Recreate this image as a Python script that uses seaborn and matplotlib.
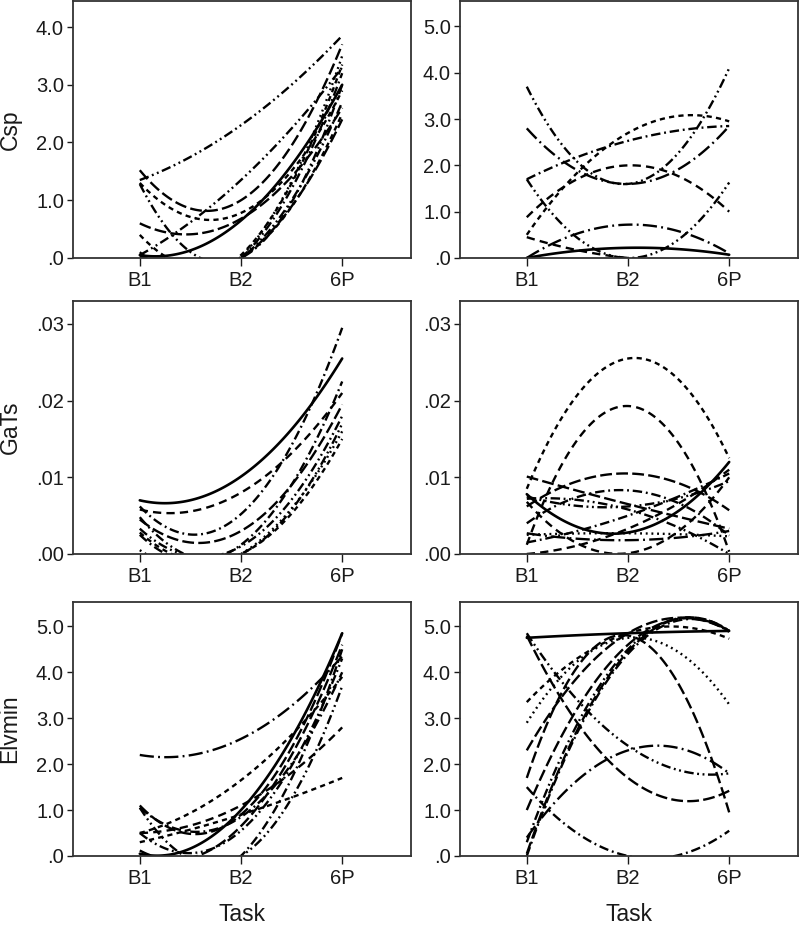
"""
Individual quadratic trajectories across tasks (B1, B2, 6P) for Csp, GaTs, Elvmin.
Left column and right column = two groups.
"""
import numpy as np
import pandas as pd
import matplotlib
matplotlib.use("Agg")
import matplotlib.pyplot as plt
from matplotlib.ticker import FuncFormatter, MultipleLocator
import seaborn as sns

sns.set_theme(style="ticks")
plt.rcParams["font.family"] = ["Liberation Sans", "DejaVu Sans"]

# %% Data: each row = one subject, values at B1, B2, 6P
tasks = ["B1", "B2", "6P"]
task_pos = [1, 2, 3]

csp_left = [
    [1.35, 2.30, 3.85], [1.52, 1.00, 3.70], [1.30, 0.78, 2.90], [1.28, 0.00, 3.00],
    [0.05, 1.35, 3.30], [0.60, 0.68, 2.60], [0.40, 0.00, 2.50], [0.05, 0.65, 3.00],
    [0.00, 0.00, 3.20], [0.05, 0.00, 2.40], [0.00, 0.02, 3.50], [0.10, 0.00, 2.70],
    [0.00, 0.05, 3.35],
]
csp_left_style = ["dd", "long", "short", "dd", "dd", "long", "short", "solid",
                  "dot_dash", "long", "dot", "dd", "short"]

csp_right = [
    [3.70, 1.60, 4.10], [2.80, 1.60, 2.85], [0.50, 2.70, 2.95], [0.88, 2.00, 1.00],
    [1.70, 2.53, 2.85], [1.70, 0.00, 1.63], [0.00, 0.72, 0.10], [0.45, 0.00, 0.00],
    [0.00, 0.22, 0.07],
]
csp_right_style = ["dd", "ldot", "short", "med", "dot_dash", "dd", "ldot", "med", "solid"]

gats_left = [
    [0.0070, 0.0101, 0.0255], [0.0062, 0.0052, 0.0295], [0.0058, 0.0080, 0.0210],
    [0.0045, 0.0030, 0.0195], [0.0033, 0.0010, 0.0180], [0.0005, 0.0000, 0.0160],
    [0.0028, 0.0000, 0.0150], [0.0048, 0.0000, 0.0170], [0.0025, 0.0012, 0.0225],
]
gats_left_style = ["solid", "dot_dash", "med", "long", "dd", "dot", "short", "dd", "dot_dash"]

gats_right = [
    [0.0085, 0.0255, 0.0125], [0.0012, 0.0193, 0.0003], [0.0062, 0.0105, 0.0057],
    [0.0078, 0.0028, 0.0120], [0.0040, 0.0083, 0.0024], [0.0101, 0.0065, 0.0033],
    [0.0068, 0.0001, 0.0100], [0.0075, 0.0062, 0.0095], [0.0025, 0.0027, 0.0023],
    [0.0027, 0.0018, 0.0030], [0.0000, 0.0033, 0.0110], [0.0072, 0.0058, 0.0000],
    [0.0015, 0.0050, 0.0105],
]
gats_right_style = ["short", "med", "long", "solid", "dot_dash", "long", "med", "dd",
                    "dot", "ldot", "med", "dd", "dot_dash"]

elv_left = [
    [2.20, 2.55, 4.35], [0.50, 1.65, 3.90], [0.30, 0.90, 1.70], [0.50, 1.10, 2.80],
    [0.05, 1.00, 4.85], [1.10, 0.90, 4.85], [1.05, 0.85, 4.00], [1.05, 0.00, 3.70],
    [0.00, 0.00, 4.50], [0.12, 0.65, 4.60], [0.50, 0.55, 4.30],
]
elv_left_style = ["ldot", "short", "short", "med", "solid", "long", "dot_dash", "dd",
                  "dot_dash", "long", "dd"]

elv_right = [
    [4.75, 4.85, 4.90], [4.85, 2.40, 1.80], [4.80, 1.70, 1.42], [1.50, 0.00, 0.55],
    [0.40, 2.30, 1.80], [1.70, 4.80, 0.95], [2.90, 4.75, 3.30], [3.35, 4.85, 4.73],
    [0.00, 4.40, 4.88], [0.05, 4.45, 4.90], [0.30, 4.50, 4.90], [1.00, 4.60, 4.90],
    [2.30, 4.85, 4.90],
]
elv_right_style = ["solid", "dd", "long", "dot_dash", "ldot", "long", "dot", "short",
                   "dot_dash", "long", "dd", "long", "long"]

# line styles (dash lengths in units of line width)
DASH = {
    "solid": "-",
    "long": (0, (5, 1.8)),
    "med": (0, (3.5, 2.2)),
    "short": (0, (2.2, 1.8)),
    "dot": (0, (0.8, 1.6)),
    "dot_dash": (0, (4, 1.6, 0.8, 1.6)),
    "dd": (0, (4, 1.5, 0.8, 1.5, 0.8, 1.5)),
    "ldot": (0, (6, 1.8, 0.8, 1.8)),
}
LW = 1.7
INK = "#1a1a1a"


def fmt_label(decimals):
    return FuncFormatter(lambda v, p: f"{v:.{decimals}f}".lstrip("0"))


def draw(ax, curves, styles, ymax, step, decimals):
    for vals, st in zip(curves, styles):
        sns.regplot(x=task_pos, y=vals, order=2, ci=None, scatter=False, truncate=True,
                    color="black", ax=ax,
                    line_kws={"lw": LW + (0.2 if st == "solid" else 0), "linestyle": DASH[st]})
    ax.set_xlim(0.34, 3.68)
    ax.set_ylim(0, ymax)
    ax.set_xticks(task_pos)
    ax.set_xticklabels(tasks)
    ax.yaxis.set_major_locator(MultipleLocator(step))
    ax.yaxis.set_major_formatter(fmt_label(decimals))
    ax.set_xlabel("")
    ax.set_ylabel("")
    for sp in ax.spines.values():
        sp.set_visible(True)
        sp.set_color("#333333")
        sp.set_linewidth(1.3)
    ax.tick_params(axis="y", direction="out", length=4, width=1, pad=2.5,
                   labelsize=14.5, colors=INK)
    ax.tick_params(axis="x", direction="out", length=6, width=1, pad=3.5,
                   labelsize=14.5, colors=INK)


# %% Figure
fig = plt.figure(figsize=(8, 9.27), dpi=100)
rows = [(0.7217, 0.2772), (0.4024, 0.2729), (0.0766, 0.2740)]
lefts = [0.09125, 0.575]
width = 0.4225

panels = [
    (csp_left, csp_left_style, 4.45, 1.0, 1, csp_right, csp_right_style, 5.55, 1.0, 1, "Csp"),
    (gats_left, gats_left_style, 0.033, 0.01, 2, gats_right, gats_right_style, 0.033, 0.01, 2, "GaTs"),
    (elv_left, elv_left_style, 5.53, 1.0, 1, elv_right, elv_right_style, 5.53, 1.0, 1, "Elvmin"),
]

for (b, h), (cl, sl, yl, stl, dl, cr, sr, yr, str_, dr, name) in zip(rows, panels):
    axl = fig.add_axes([lefts[0], b, width, h])
    axr = fig.add_axes([lefts[1], b, width, h])
    draw(axl, cl, sl, yl, stl, dl)
    draw(axr, cr, sr, yr, str_, dr)
    axl.set_ylabel(name, fontsize=16.5, color=INK)
    axl.yaxis.set_label_coords(-0.152, 0.5)
    if name == "Elvmin":
        for ax in (axl, axr):
            ax.set_xlabel("Task", fontsize=16.5, color=INK, labelpad=11)

fig.savefig("out.png", dpi=100)
plt.close(fig)
